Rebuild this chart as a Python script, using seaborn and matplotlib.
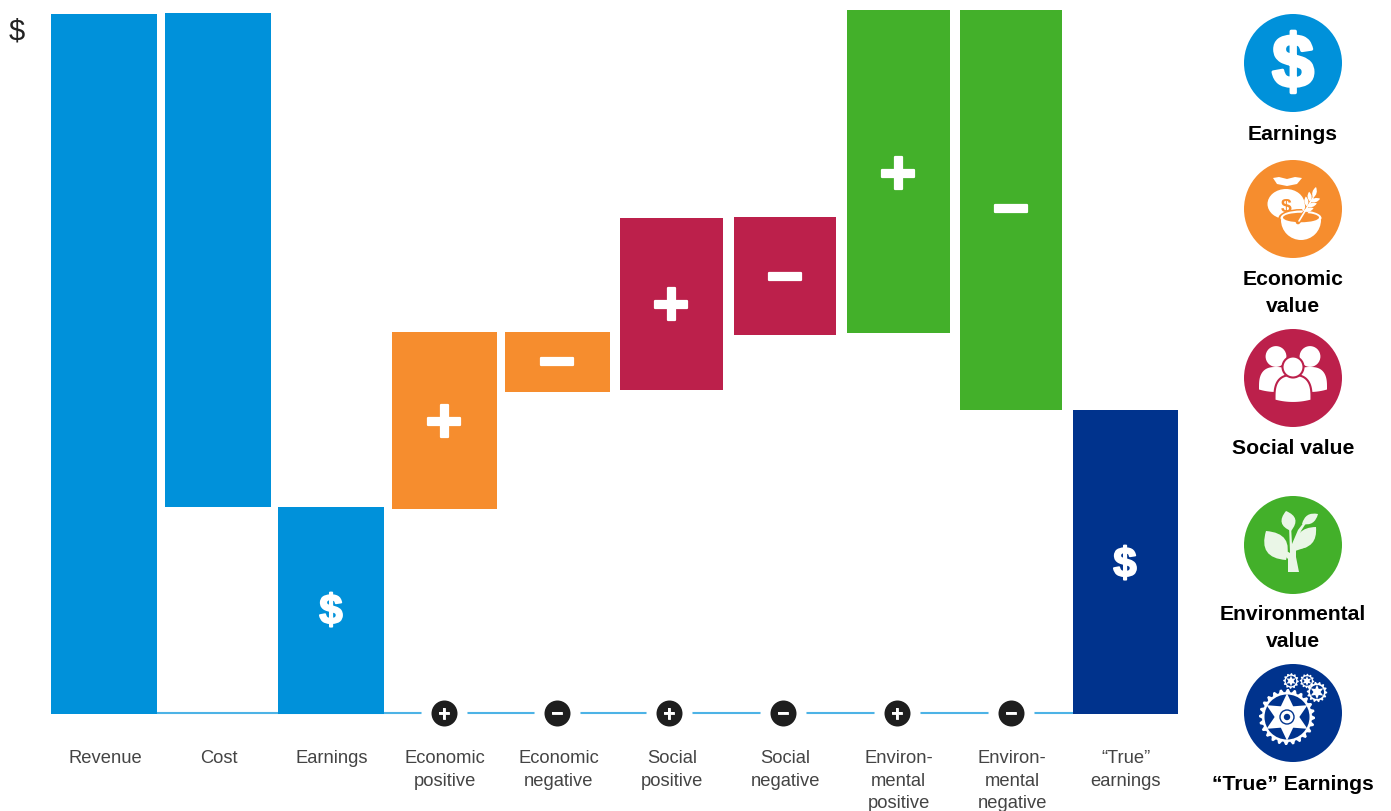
import numpy as np
import pandas as pd
import matplotlib
matplotlib.use("Agg")
import matplotlib.pyplot as plt
import matplotlib.patheffects as pe
from matplotlib.patches import Circle, Ellipse, PathPatch, Polygon, Wedge
from matplotlib.path import Path
from matplotlib.transforms import ScaledTranslation
import seaborn as sns

# ---------- data (arbitrary $ units) ----------
categories = ["Revenue", "Cost", "Earnings", "Economic\npositive", "Economic\nnegative",
              "Social\npositive", "Social\nnegative", "Environ-\nmental\npositive",
              "Environ-\nmental\nnegative", "“True”\nearnings"]
bar_tops = [700, 701, 207, 382, 382, 496, 497, 704, 704, 304]
bar_bottoms = [0, 207, 0, 205, 322, 324, 379, 381, 304, 0]
bar_groups = ["earn", "earn", "earn", "econ", "econ", "soc", "soc", "env", "env", "true"]
bar_symbols = ["", "", "$", "+", "−", "+", "−", "+", "−", "$"]
legend_labels = ["Earnings", "Economic\nvalue", "Social value", "Environmental\nvalue", "“True” Earnings"]

# ---------- styles and layout ----------
W, H = 1391, 812
BASE_PX = 714
colors = {"earn": "#0091DA", "econ": "#F68D2E", "soc": "#BC204B", "env": "#43B02A", "true": "#00338D"}
legend_colors = ["#0091DA", "#F68D2E", "#BC204B", "#43B02A", "#00338D"]
bar_left_px = [51, 165, 278, 392, 505, 620, 734, 847, 960, 1073]
bar_right_px = [157, 271, 384, 497, 610, 723, 836, 950, 1062, 1178]
marker_px = [444, 557, 669, 783, 897, 1011]
marker_signs = ["+", "−", "+", "−", "+", "−"]
legend_cy = [64, 210, 379, 546, 714]
legend_cx = 1293
legend_r = 49
legend_text_y = [135, 293, 449, 628, 785]
BOLD = "Liberation Sans"

sns.set_theme(style="white")
plt.rcParams["font.family"] = ["Liberation Sans", "DejaVu Sans"]

fig = plt.figure(figsize=(W / 100, H / 100), dpi=100, facecolor="white")
ax = fig.add_axes([0, 1 - (BASE_PX + 1) / H, 1, BASE_PX / H])

df = pd.DataFrame({"category": categories, "top": bar_tops, "group": bar_groups})
sns.barplot(data=df, x="category", y="top", hue="group", palette=colors, dodge=False,
            order=categories, legend=False, ax=ax, saturation=1, width=0.9)

# x scale: category index -> pixel
PX0, STEP = 104.0, 113.4
ax.set_xlim(-PX0 / STEP, (W - PX0) / STEP)
ax.set_ylim(0, BASE_PX)
px2x = lambda p: (p - PX0) / STEP

# waterfall: each bar floats from its bottom to its top
bars = [p for p in ax.patches if p.get_height() > 0]
bars.sort(key=lambda p: p.get_x())
for b, lo, hi, l, r in zip(bars, bar_bottoms, bar_tops, bar_left_px, bar_right_px):
    b.set_y(lo)
    b.set_height(hi - lo)
    b.set_x(px2x(l))
    b.set_width((r - l) / STEP)
    b.set_zorder(3)
    b.set_linewidth(0)

# base line with breaks at the sign markers
ax.plot([px2x(157), px2x(1073)], [1.3, 1.3], color="#4DB3E6", lw=1.5, zorder=1, clip_on=False, solid_capstyle="butt")
mx = [px2x(p) for p in marker_px]
my = [1.3] * len(mx)
ax.scatter(mx, my, s=(46 * 0.72) ** 2, c="white", lw=0, zorder=2, clip_on=False)
ax.scatter(mx, my, s=(26 * 0.72) ** 2, c="#1E1E1E", lw=0, zorder=4, clip_on=False)
for x, s in zip(mx, marker_signs):
    ax.text(x, 1.3, s, color="white", fontsize=15, fontweight="bold", ha="center",
            va="center_baseline", zorder=5, clip_on=False, family=BOLD,
            path_effects=[pe.withStroke(linewidth=0.6, foreground="white")])

# axes dress
for s in ax.spines.values():
    s.set_visible(False)
ax.set_yticks([])
ax.set_xlabel("")
ax.set_ylabel("")
ax.set_xticks(range(len(categories)))
ax.set_xticklabels(categories, fontsize=13.2, color="#444444", linespacing=1.4)
ax.tick_params(axis="x", length=0, pad=25.5)
shift = ScaledTranslation(1 / 100, 0, fig.dpi_scale_trans)
for lab in ax.get_xticklabels():
    lab.set_transform(lab.get_transform() + shift)
ax.patch.set_alpha(0)

sym_px = {2: (331, 609), 3: (444, 420), 4: (557, 360), 5: (671, 303), 6: (785, 275),
          7: (898, 172), 8: (1011, 207), 9: (1125, 562)}

# ---------- pixel overlay ----------
ov = fig.add_axes([0, 0, 1, 1], zorder=10)
ov.set_xlim(0, W)
ov.set_ylim(H, 0)
ov.axis("off")
ov.patch.set_alpha(0)

for i, (x, y) in sym_px.items():
    s = bar_symbols[i]
    if s == "$":
        ov.text(x, y, s, color="white", fontsize=30, fontweight="bold", ha="center", va="center_baseline",
                path_effects=[pe.withStroke(linewidth=1.4, foreground="white")])
    else:
        ov.text(x, y, s, color="white", fontsize=46, fontweight="bold", ha="center", va="center_baseline",
                path_effects=[pe.withStroke(linewidth=1.6, foreground="white")])

ov.text(17, 28, "$", fontsize=21, color="#222222", ha="center", va="center_baseline")

for lab, y in zip(legend_labels, legend_text_y):
    ov.text(legend_cx, y, lab, fontsize=15.2, fontweight="bold", color="black", ha="center", va="center",
            linespacing=1.47)

for c, cy in zip(legend_colors, legend_cy):
    ov.add_patch(Circle((legend_cx, cy), legend_r, fc=c, ec="none"))


def leaf(cx, cy, base, tip, bulge, fc="white", ec="none", lw=0, z=12):
    b = np.array(base, float) + (cx, cy)
    t = np.array(tip, float) + (cx, cy)
    d = t - b
    n = np.array([-d[1], d[0]]) / np.hypot(*d)
    m = (b + t) / 2
    verts = [b, m + n * bulge * 2, t, m - n * bulge * 2, b]
    codes = [Path.MOVETO, Path.CURVE3, Path.CURVE3, Path.CURVE3, Path.CURVE3]
    ov.add_patch(PathPatch(Path(verts, codes), fc=fc, ec=ec, lw=lw, zorder=z))


def gear(cx, cy, r_out, r_in, n, hole, spokes, fc="white", bg="#00338D", z=12, blade=0.42):
    a = np.linspace(0, 2 * np.pi, n * 4, endpoint=False)
    r = np.tile([r_out, r_out, r_in, r_in], n)
    ov.add_patch(Polygon(np.c_[cx + r * np.cos(a), cy + r * np.sin(a)], fc=fc, ec="none", zorder=z))
    ov.add_patch(Circle((cx, cy), hole, fc=bg, ec="none", zorder=z + 1))
    for k in range(spokes):
        t = 2 * np.pi * k / spokes + np.pi / 2
        w = hole * blade
        tip = (cx + hole * 1.05 * np.cos(t), cy + hole * 1.05 * np.sin(t))
        p1 = (cx + w * np.cos(t + np.pi / 2), cy + w * np.sin(t + np.pi / 2))
        p2 = (cx - w * np.cos(t + np.pi / 2), cy - w * np.sin(t + np.pi / 2))
        ov.add_patch(Polygon([tip, p1, p2], fc=fc, ec="none", zorder=z + 2))


def body(cx, top, bottom, hw, fc="white", ec="none", lw=0, z=12):
    t = np.linspace(np.pi, 0, 60)
    sh = (bottom - top) * 0.8
    xs = cx + hw * np.sign(np.cos(t)) * np.abs(np.cos(t)) ** 0.75
    ys = top + sh - sh * np.sin(t) ** 0.75
    bx = np.linspace(cx + hw, cx - hw, 20)
    by = bottom - 2.5 * ((bx - cx) / hw) ** 2
    ov.add_patch(Polygon(np.r_[np.c_[xs, ys], np.c_[bx, by]], fc=fc, ec=ec, lw=lw, zorder=z))


# Earnings icon
ov.text(legend_cx, legend_cy[0] - 3, "$", color="white", fontsize=54, fontweight="bold", ha="center",
        va="center_baseline", zorder=12, path_effects=[pe.withStroke(linewidth=2.4, foreground="white")])

# Economic icon
cx, cy = legend_cx, legend_cy[1]
OR = legend_colors[1]
ov.add_patch(Ellipse((cx - 7, cy - 5), 37, 30, fc="white", ec="none", zorder=12))
ov.add_patch(Polygon([(cx - 20, cy - 31), (cx - 14, cy - 32), (cx - 6, cy - 30), (cx + 2, cy - 32), (cx + 9, cy - 31),
                      (cx + 4, cy - 25), (cx - 6, cy - 23), (cx - 16, cy - 25)], fc="white", ec="none", zorder=12))
ov.text(cx - 7, cy - 5, "$", color=OR, fontsize=14, fontweight="bold", ha="center", va="center_baseline", zorder=13)
ov.add_patch(Ellipse((cx + 8, cy + 9), 45, 18, fc=OR, ec="none", zorder=13))
ov.add_patch(Ellipse((cx + 8, cy + 9), 41, 15, fc="white", ec="none", zorder=14))
ov.add_patch(Wedge((cx + 8, cy + 11), 20, 0, 180, fc="white", ec="none", zorder=14))
ov.add_patch(Polygon([(cx - 10, cy + 13.5), (cx + 26, cy + 13.5), (cx + 26, cy + 10.5), (cx - 10, cy + 10.5)],
                     fc="white", ec="none", zorder=15))
ov.add_patch(Ellipse((cx + 8, cy + 8.5), 36, 9.5, fc=OR, ec="none", zorder=15))
ov.plot([cx + 5, cx + 22], [cy + 13, cy - 10], color=OR, lw=3.4, zorder=16, solid_capstyle="round")
ov.plot([cx + 6, cx + 20], [cy + 12, cy - 11], color="white", lw=1.2, zorder=17)
for f in (0.2, 0.45, 0.7):
    bx, by = cx + 8 + 13 * f, cy + 6 - 19 * f
    leaf(bx, by, (0, 0), (-1, -10), 2.1, z=18)
    leaf(bx, by, (0, 0), (10, -3), 2.1, z=18)
leaf(cx + 20, cy - 11, (0, 0), (3, -11), 2.2, z=18)

# Social icon
cx, cy = legend_cx, legend_cy[2]
SO = legend_colors[2]
ov.add_patch(Circle((cx - 17, cy - 21.5), 10.4, fc="white", ec="none", zorder=12))
ov.add_patch(Circle((cx + 17, cy - 21.5), 10.4, fc="white", ec="none", zorder=12))
body(cx - 17, cy - 11, cy + 14, 17)
body(cx + 17, cy - 11, cy + 14, 17)
body(cx, cy - 3, cy + 25, 18.5, ec=SO, lw=1.5, z=13)
ov.add_patch(Circle((cx, cy - 11), 10.5, fc="white", ec=SO, lw=1.5, zorder=14))

# Environmental icon
cx, cy = legend_cx, legend_cy[3]
GR = "#EAF6E7"
ov.add_patch(Polygon([(cx - 5, cy + 27), (cx + 6, cy + 27), (cx + 3, cy + 12), (cx + 3, cy + 2), (cx + 8, cy - 14),
                      (cx + 17, cy - 28), (cx + 15, cy - 28), (cx + 5, cy - 15), (cx - 1, cy - 1), (cx - 2, cy - 20),
                      (cx - 4, cy - 20), (cx - 3, cy + 8), (cx - 15, cy + 1), (cx - 16, cy + 2), (cx - 5, cy + 14)],
                     fc=GR, ec="none", zorder=12))
ov.add_patch(Polygon([(cx + 1, cy + 2), (cx + 14, cy), (cx + 14, cy + 2), (cx + 2, cy + 6)], fc=GR, ec="none", zorder=12))
leaf(cx, cy, (-7, 15), (-27, -14), 11, fc=GR)
leaf(cx, cy, (-2, -14), (-7, -34), 7, fc=GR)
leaf(cx, cy, (9, -21), (25, -31), 4.5, fc=GR)
leaf(cx, cy, (3, 4), (23, -18), 8, fc=GR)

# True earnings icon
cx, cy = legend_cx, legend_cy[4]
gear(cx - 6, cy + 4, 28, 25, 24, 22.5, 6, blade=0.5)
ov.add_patch(Circle((cx - 6, cy + 4), 7, fc="white", ec="#00338D", lw=1, zorder=16))
ov.add_patch(Circle((cx - 6, cy + 4), 3.2, fc="#00338D", ec="none", zorder=17))
gear(cx - 2, cy - 32, 7.8, 6.5, 12, 5.2, 6, z=18)
gear(cx + 14, cy - 32, 7.2, 6, 12, 4.8, 6, z=18)
gear(cx + 24, cy - 21, 10.2, 8.6, 14, 7, 6, z=21)

fig.savefig("out.png", dpi=100, facecolor="white")
